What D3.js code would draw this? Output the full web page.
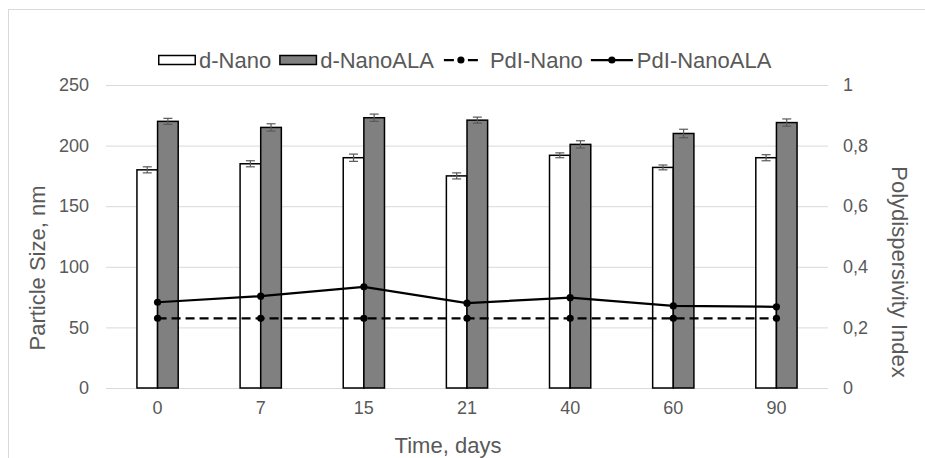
<!DOCTYPE html>
<html>
<head>
<meta charset="utf-8">
<script src="https://cdn.jsdelivr.net/npm/d3@7"></script>
<style>
  body { margin: 0; background: #fff; }
  svg { display: block; font-family: "Liberation Sans", Arial, sans-serif; }
</style>
</head>
<body>
<div id="container"></div>
<script>
// data
const days = ["0", "7", "15", "21", "40", "60", "90"];
const dNano = [180, 185, 190, 175, 192, 182, 190];
const dNanoErr = [2.5, 2.5, 3, 2.5, 2, 2, 2.5];
const dNanoALA = [220, 215, 223, 221, 201, 210, 219];
const dNanoALAErr = [2.5, 3, 3, 2.5, 3, 3.5, 3];
const pdiNano = [0.23, 0.23, 0.23, 0.23, 0.23, 0.23, 0.23];
const pdiNanoALA = [0.283, 0.303, 0.334, 0.28, 0.298, 0.271, 0.268];
const sizeTicks = [0, 50, 100, 150, 200, 250];
const pdiTicks = [0, 0.2, 0.4, 0.6, 0.8, 1];

const width = 925,
  height = 458;
const plotLeft = 106,
  plotRight = 828,
  plotTop = 85,
  plotBottom = 388;

const textColor = "#595959";
const gridColor = "#d9d9d9";
const fontFamily = "Liberation Sans, Arial, sans-serif";

const svg = d3
  .select("#container")
  .append("svg")
  .attr("width", width)
  .attr("height", height)
  .attr("viewBox", [0, 0, width, height]);

// chart frame
svg
  .append("rect")
  .attr("x", 8.5)
  .attr("y", 9.5)
  .attr("width", 930)
  .attr("height", 470)
  .attr("fill", "#fff")
  .attr("stroke", gridColor);

// scales
const x0 = d3
  .scaleBand()
  .domain(days)
  .range([plotLeft, plotRight])
  .paddingInner(0.6)
  .paddingOuter(0.3);
const series = ["d-Nano", "d-NanoALA"];
const x1 = d3.scaleBand().domain(series).range([0, x0.bandwidth()]);
const y = d3.scaleLinear().domain([0, 250]).range([plotBottom, plotTop]);
const y2 = d3.scaleLinear().domain([0, 1]).range([plotBottom, plotTop]);

const comma = d3.formatLocale({
  decimal: ",",
  thousands: ".",
  grouping: [3],
  currency: ["", ""]
});
const fmt = comma.format(".1~f");

function styleTicks(g) {
  g.selectAll(".tick text")
    .attr("fill", textColor)
    .attr("font-size", 18)
    .attr("font-family", fontFamily);
}

// left axis + gridlines
svg
  .append("g")
  .attr("transform", `translate(${plotLeft},0)`)
  .call(
    d3
      .axisLeft(y)
      .tickValues(sizeTicks)
      .tickSize(-(plotRight - plotLeft))
      .tickPadding(17)
  )
  .call((g) => g.select(".domain").remove())
  .call((g) => g.selectAll(".tick line").attr("stroke", gridColor))
  .call(styleTicks);

// right axis labels
svg
  .append("g")
  .attr("transform", `translate(${plotRight},0)`)
  .call(d3.axisRight(y2).tickValues(pdiTicks).tickFormat(fmt).tickSize(0).tickPadding(15))
  .call((g) => g.select(".domain").remove())
  .call(styleTicks);

// bottom axis labels
svg
  .append("g")
  .attr("transform", `translate(0,${plotBottom})`)
  .call(d3.axisBottom(x0).tickSize(0).tickPadding(13))
  .call((g) => g.select(".domain").remove())
  .call(styleTicks);

// axis titles
svg
  .append("text")
  .attr("transform", `translate(45,268) rotate(-90)`)
  .attr("text-anchor", "middle")
  .attr("fill", textColor)
  .attr("font-size", 22)
  .text("Particle Size, nm");

svg
  .append("text")
  .attr("transform", `translate(892,272) rotate(90)`)
  .attr("text-anchor", "middle")
  .attr("fill", textColor)
  .attr("font-size", 22)
  .text("Polydispersivity Index");

svg
  .append("text")
  .attr("x", 448)
  .attr("y", 453)
  .attr("text-anchor", "middle")
  .attr("fill", textColor)
  .attr("font-size", 22)
  .text("Time, days");

// bars
const barData = [
  { key: "d-Nano", values: dNano, err: dNanoErr, fill: "#ffffff" },
  { key: "d-NanoALA", values: dNanoALA, err: dNanoALAErr, fill: "#808080" }
];

barData.forEach((s) => {
  const g = svg.append("g");
  g.selectAll("rect")
    .data(days)
    .join("rect")
    .attr("x", (d) => x0(d) + x1(s.key))
    .attr("y", (d, i) => y(s.values[i]))
    .attr("width", x1.bandwidth())
    .attr("height", (d, i) => y(0) - y(s.values[i]))
    .attr("fill", s.fill)
    .attr("stroke", "#000")
    .attr("stroke-width", 1.5);

  // error bars
  const e = svg.append("g").attr("stroke", "#595959").attr("stroke-width", 1.2);
  days.forEach((d, i) => {
    const cx = x0(d) + x1(s.key) + x1.bandwidth() / 2;
    const lo = y(s.values[i] - s.err[i]);
    const hi = y(s.values[i] + s.err[i]);
    e.append("line").attr("x1", cx).attr("x2", cx).attr("y1", lo).attr("y2", hi);
    e.append("line").attr("x1", cx - 4.5).attr("x2", cx + 4.5).attr("y1", lo).attr("y2", lo);
    e.append("line").attr("x1", cx - 4.5).attr("x2", cx + 4.5).attr("y1", hi).attr("y2", hi);
  });
});

// PdI lines
const cxOf = (d) => x0(d) + x0.bandwidth() / 2;
const lineData = [
  { key: "PdI-Nano", values: pdiNano, dash: "9,5" },
  { key: "PdI-NanoALA", values: pdiNanoALA, dash: null }
];

lineData.forEach((s) => {
  const line = d3
    .line()
    .x((d) => cxOf(d))
    .y((d, i) => y2(s.values[i]));
  svg
    .append("path")
    .datum(days)
    .attr("d", line)
    .attr("fill", "none")
    .attr("stroke", "#000")
    .attr("stroke-width", 2.25)
    .attr("stroke-dasharray", s.dash);
  svg
    .append("g")
    .selectAll("circle")
    .data(days)
    .join("circle")
    .attr("cx", (d) => cxOf(d))
    .attr("cy", (d, i) => y2(s.values[i]))
    .attr("r", 3.6)
    .attr("fill", "#000");
});

// legend
const legend = svg.append("g").attr("font-size", 22).attr("fill", textColor);
const legendItems = [
  { key: "d-Nano", type: "rect", fill: "#ffffff", w: 38, pad: 3, after: 8 },
  { key: "d-NanoALA", type: "rect", fill: "#808080", w: 38, pad: 3, after: 10 },
  { key: "PdI-Nano", type: "dash", w: 34, pad: 12, after: 8 },
  { key: "PdI-NanoALA", type: "line", w: 42, pad: 4, after: 0 }
];
const ly = 60;
let lx = 158;
legendItems.forEach((it) => {
  const g = legend.append("g").attr("transform", `translate(${lx},0)`);
  if (it.type === "rect") {
    g.append("rect")
      .attr("x", 0.75)
      .attr("y", ly - 4.5)
      .attr("width", it.w - 1.5)
      .attr("height", 9)
      .attr("fill", it.fill)
      .attr("stroke", "#000")
      .attr("stroke-width", 1.5);
  } else {
    g.append("line")
      .attr("x1", 0)
      .attr("x2", it.w)
      .attr("y1", ly)
      .attr("y2", ly)
      .attr("stroke", "#000")
      .attr("stroke-width", 2.25)
      .attr("stroke-dasharray", it.type === "dash" ? "10,14" : null);
    g.append("circle").attr("cx", it.w / 2).attr("cy", ly).attr("r", 3.6).attr("fill", "#000");
  }
  const t = g
    .append("text")
    .attr("x", it.w + it.pad)
    .attr("y", ly)
    .attr("dy", "0.35em")
    .text(it.key);
  lx += it.w + it.pad + t.node().getComputedTextLength() + it.after;
});
</script>
</body>
</html>
